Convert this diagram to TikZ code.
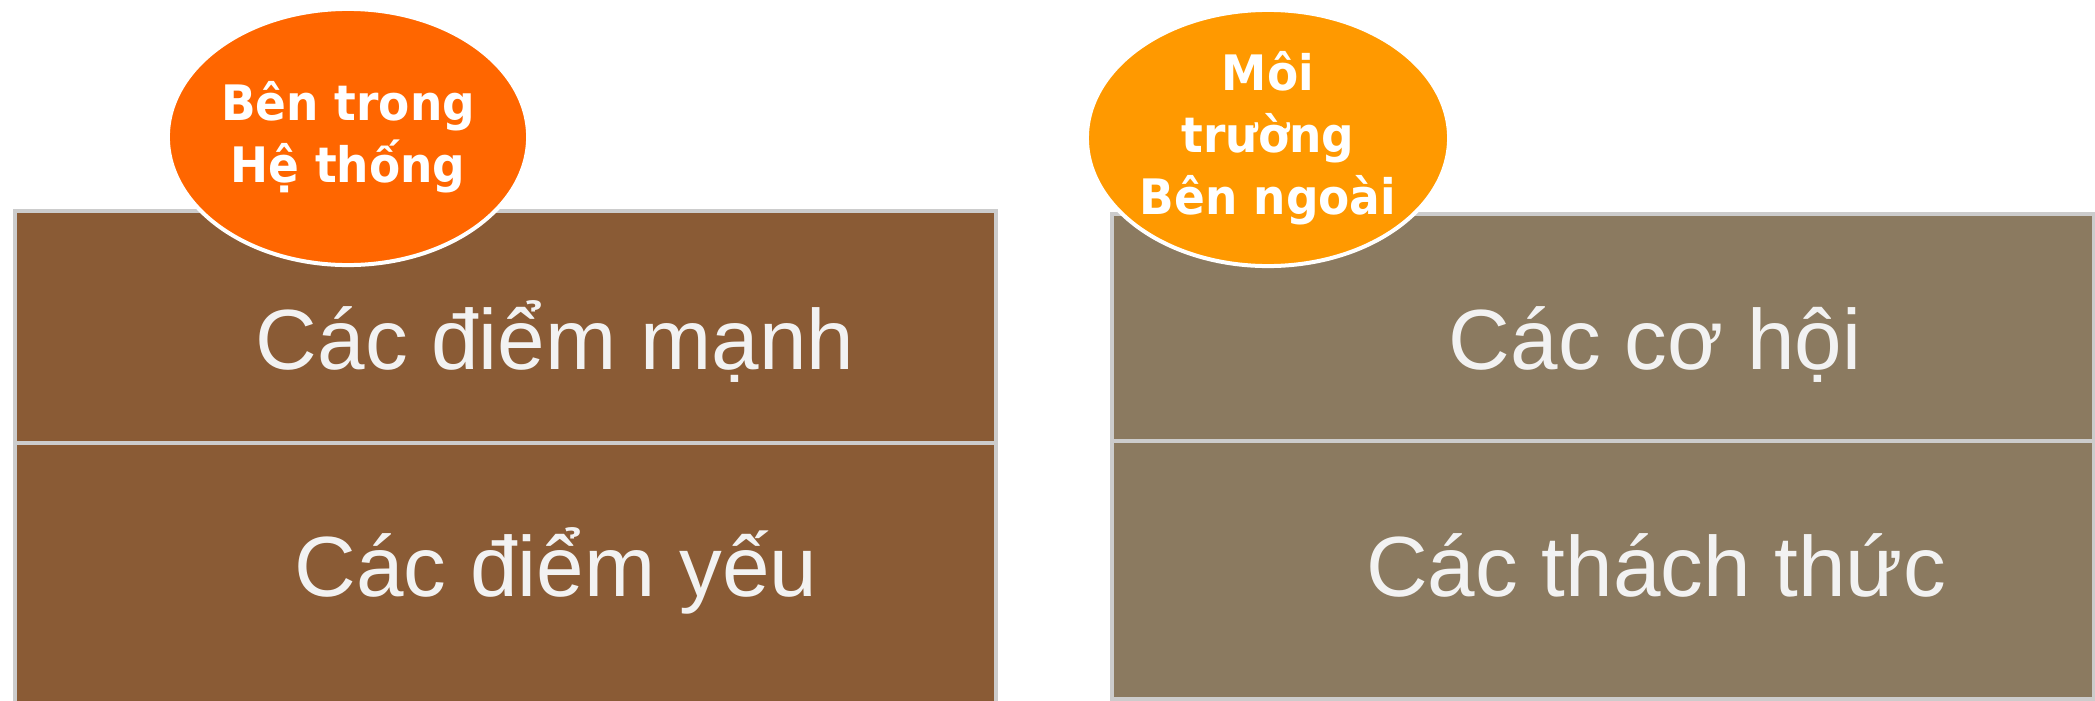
\documentclass[tikz,border=0pt]{standalone}
\usepackage{fontspec}
\setmainfont{Liberation Sans}
\newfontfamily\ovalfont[FakeStretch=0.93]{DejaVu Sans}
\usetikzlibrary{shapes.geometric}

\definecolor{insidebrown}{HTML}{8A5B35}
\definecolor{outsidebrown}{HTML}{8B7A60}
\definecolor{insideorange}{HTML}{FF6600}
\definecolor{outsideorange}{HTML}{FF9900}
\definecolor{paletext}{HTML}{F2F2F2}

\tikzset{
  quad/.style={rectangle,draw=gray!40,line width=0.04cm,anchor=north west,inner sep=0pt},
  quadtext/.style={anchor=base,text=paletext,font=\fontsize{24.3}{28}\selectfont},
  oval/.style={ellipse,draw=white,line width=0.04cm,inner sep=0pt,minimum width=3.6cm,minimum height=2.56cm,
    align=center,text=white,font=\ovalfont\bfseries\fontsize{13.9}{17.6}\selectfont},
}

\begin{document}
\begin{tikzpicture}[x=0.01cm,y=-0.01cm]
    \useasboundingbox (0,0) rectangle (2095,700);

    % Inside boxes
    \node[quad,fill=insidebrown,minimum width=9.8cm,minimum height=2.32cm] (strong) at (13,209) {};
    \node[quad,fill=insidebrown,minimum width=9.8cm,minimum height=2.7cm] (weak) at (13,441) {};

    % Outside boxes
    \node[quad,fill=outsidebrown,minimum width=9.81cm,minimum height=2.27cm] (chance) at (1110,212) {};
    \node[quad,fill=outsidebrown,minimum width=9.81cm,minimum height=2.58cm] (threat) at (1110,439) {};

    % Box labels
    \node[quadtext] (strongtext) at (555,369) {Các điểm mạnh};
    \node[quadtext] (weaktext) at (556,596) {Các điểm yếu};
    \node[quadtext] (chancetext) at (1655,369) {Các cơ hội};
    \node[quadtext] (threattext) at (1656,596) {Các thách thức};

    % Headings
    \node[oval,fill=insideorange] (inside) at (348,137) {Bên trong\\Hệ thống};
    \node[oval,fill=outsideorange] (outside) at (1268,138) {Môi\\trường\\Bên ngoài};
\end{tikzpicture}
\end{document}
